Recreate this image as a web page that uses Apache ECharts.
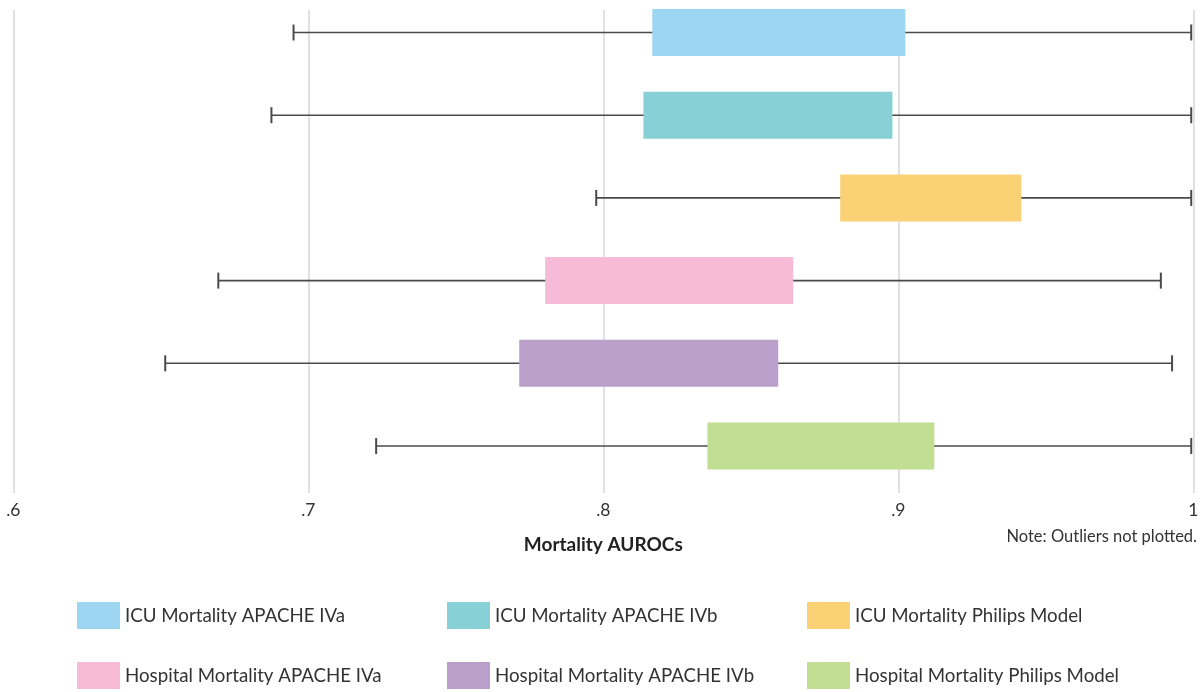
<!DOCTYPE html>
<html>
<head>
<meta charset="utf-8">
<script src="https://cdn.jsdelivr.net/npm/echarts@6/dist/echarts.min.js"></script>
<style>
  html, body { margin: 0; padding: 0; background: #fff; }
  #chart { width: 1204px; height: 692px; }
</style>
</head>
<body>
<div id="chart"></div>
<script>
var names = [
  "ICU Mortality APACHE IVa",
  "ICU Mortality APACHE IVb",
  "ICU Mortality Philips Model",
  "Hospital Mortality APACHE IVa",
  "Hospital Mortality APACHE IVb",
  "Hospital Mortality Philips Model"
];
var colors = ["#9dd6f3", "#87d0d6", "#fbd176", "#f6bcd7", "#baa0cb", "#c2de92"];
// whisker low, box low (q1), box high (q3), whisker high
var lows  = [0.695, 0.6875, 0.7976, 0.6695, 0.6515, 0.723];
var q1s   = [0.8166, 0.8136, 0.8803, 0.7803, 0.7715, 0.8353];
var q3s   = [0.9024, 0.898, 0.9417, 0.8644, 0.8593, 0.9122];
var highs = [0.9993, 0.9993, 0.9993, 0.989, 0.9928, 0.9993];

var font = "Lato";
var chart = echarts.init(document.getElementById("chart"));

function renderBox(params, api) {
  var row = api.value(4);
  var lo = api.coord([api.value(0), row]);
  var a = api.coord([api.value(1), row]);
  var b = api.coord([api.value(2), row]);
  var hi = api.coord([api.value(3), row]);
  var cy = lo[1];
  var wline = { stroke: "#4a4a4a", lineWidth: 1.6 };
  var wcap = { stroke: "#4a4a4a", lineWidth: 2 };
  return {
    type: "group",
    children: [
      { type: "line", shape: { x1: lo[0], y1: cy, x2: hi[0], y2: cy }, style: wline },
      { type: "line", shape: { x1: lo[0], y1: cy - 8, x2: lo[0], y2: cy + 8 }, style: wcap },
      { type: "line", shape: { x1: hi[0], y1: cy - 8, x2: hi[0], y2: cy + 8 }, style: wcap },
      { type: "rect", shape: { x: a[0], y: cy - 23.5, width: b[0] - a[0], height: 47 },
        style: { fill: api.visual("color") } }
    ]
  };
}

var series = [];
var legends = [];
var legLeft = [77, 447, 807];
var legTop = [602, 662];
for (var i = 0; i < names.length; i++) {
  series.push({
    name: names[i],
    type: "custom",
    itemStyle: { color: colors[i] },
    renderItem: renderBox,
    encode: { x: [0, 1, 2, 3], y: 4 },
    data: [[lows[i], q1s[i], q3s[i], highs[i], i]]
  });
  legends.push({
    data: [names[i]],
    left: legLeft[i % 3],
    top: legTop[Math.floor(i / 3)],
    padding: 0,
    icon: "rect",
    itemWidth: 43,
    itemHeight: 27,
    selectedMode: false,
    textStyle: { fontFamily: font, fontSize: 18.7, color: "#333" }
  });
}

chart.setOption({
  animation: false,
  grid: { left: 13.3, right: 10.7, top: 10, bottom: 199 },
  xAxis: {
    type: "value",
    min: 0.6,
    max: 1,
    interval: 0.1,
    axisLine: { show: false },
    axisTick: { show: false },
    splitLine: { show: true, lineStyle: { color: "#d6d6de", width: 1.5 } },
    axisLabel: {
      margin: 8,
      fontFamily: font,
      fontSize: 17.5,
      color: "#333",
      formatter: function (v) {
        var s = String(Math.round(v * 10) / 10);
        return s.indexOf("0.") === 0 ? s.slice(1) : s;
      }
    },
    name: "Mortality AUROCs",
    nameLocation: "middle",
    nameGap: 42,
    nameTextStyle: { fontFamily: font, fontSize: 19, fontWeight: "bold", color: "#222" }
  },
  // rows 0..5 placed on a value scale so they sit where the reference puts them
  yAxis: { type: "value", inverse: true, min: -0.272, max: 5.568, show: false },
  legend: legends,
  graphic: [
    {
      type: "text",
      right: 7,
      top: 528,
      style: { text: "Note: Outliers not plotted.", fontFamily: font, fontSize: 16.5, fill: "#333" }
    }
  ],
  series: series
});
</script>
</body>
</html>
